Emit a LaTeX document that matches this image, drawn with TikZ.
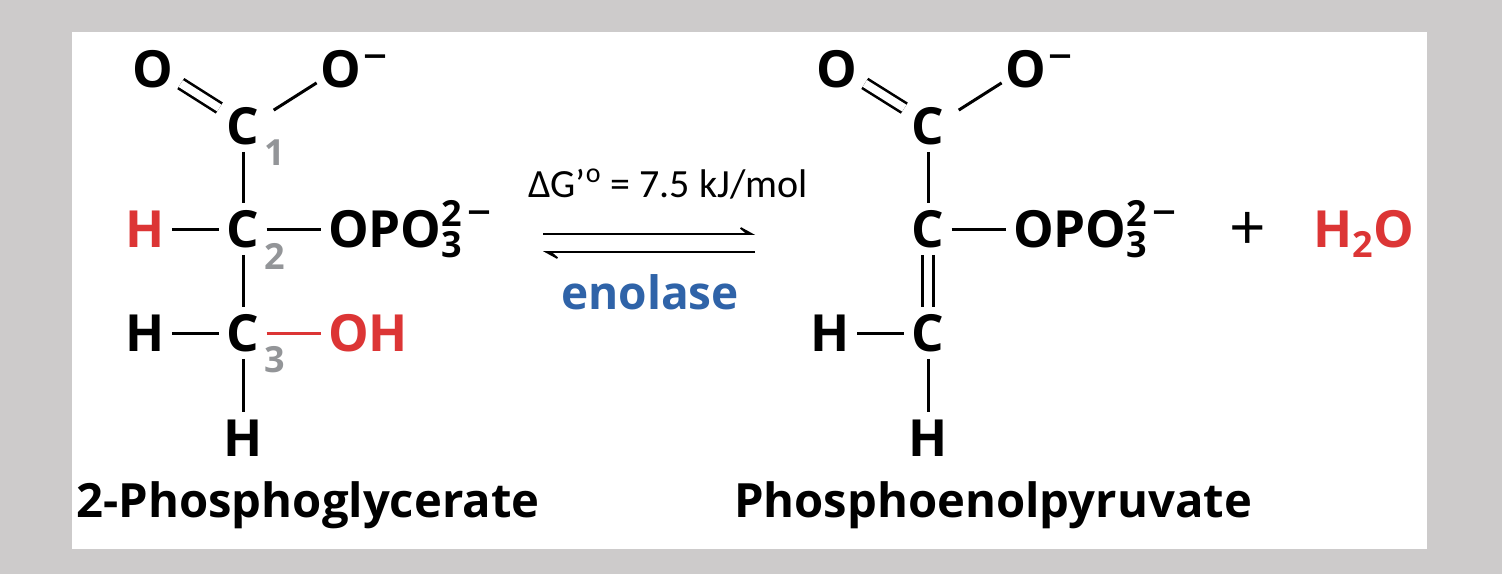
\documentclass[tikz,border=0pt]{standalone}
\usepackage{fontspec}
\setsansfont{Open Sans}
\newfontfamily\noteface{Carlito}
\usetikzlibrary{matrix,arrows.meta}
\definecolor{framegray}{HTML}{CDCBCB}
\definecolor{atomred}{HTML}{DC3535}
\definecolor{atomgray}{HTML}{939598}
\definecolor{enzblue}{HTML}{2F63A8}
\newcommand{\phoscripts}{\rlap{\raisebox{10.7pt}{\fontsize{18}{18}\selectfont 2}}\raisebox{-5.2pt}{\fontsize{18}{18}\selectfont 3}\kern 2.6pt\raisebox{11pt}{\fontsize{24}{24}\selectfont\mdseries --}}
\newcommand{\oxminus}{\kern 1.5pt\raisebox{9.2pt}{\fontsize{24}{24}\selectfont\mdseries --}}

\begin{document}
\begin{tikzpicture}[x=0.5pt, y=-0.5pt,
	atom/.style={font=\sffamily\bfseries\fontsize{25.6}{26}\selectfont, inner sep=0pt, outer sep=3.7pt, text height=18.5pt, text depth=0pt},
	molecule/.style={matrix of nodes, nodes={atom}, column 1/.style={anchor=center}, column 2/.style={anchor=center}, column 3/.style={anchor=west}},
	bond/.style={line width=1.5pt},
	dbond/.style={double, double distance=4pt, line width=1.3pt},
	tiltbond/.style={dbond, transform canvas={yshift=1.5pt}},
	carbonnum/.style={font=\sffamily\bfseries\fontsize{18}{18}\selectfont, text=atomgray, inner sep=0pt},
	molname/.style={font=\sffamily\bfseries\fontsize{23.6}{24}\selectfont, inner sep=0pt},
	eqarrow/.style={line width=1.2pt, -{Stealth[harpoon, length=10pt, width=11pt, inset=6.5pt]}}]
	\fill[framegray] (0,0) rectangle (1502,574);
	\fill[white] (72,32) rectangle (1427,549);

	\matrix (lm) [molecule, matrix anchor=lm-3-2.center] at (243,229)
	{ |[xshift=4pt]| O &[49pt,between origins] &[38.8pt,between origins] |[xshift=-4pt]| O\oxminus \\[28.5pt,between origins]
	    & C & \\[51.5pt,between origins]
	  |[text=atomred]| H & C & OPO\phoscripts \\[52pt,between origins]
	  H & C & |[text=atomred]| OH \\[52.5pt,between origins]
	    & H & \\ };
	\path[bond]
	(lm-1-1) edge[tiltbond] (lm-2-2)
	([shift={(3.5pt,-5pt)}]lm-2-2.north east) edge ([shift={(2pt,6pt)}]lm-1-3.south west)
	(lm-2-2) edge (lm-3-2)
	(lm-3-1) edge (lm-3-2)
	(lm-3-2) edge (lm-3-3)
	         edge (lm-4-2)
	(lm-4-1) edge (lm-4-2)
	(lm-4-2) edge[atomred] (lm-4-3)
	         edge (lm-5-2);
	\node[carbonnum] (numa) at ([xshift=16pt,yshift=-13.5pt]lm-2-2) {1};
	\node[carbonnum] (numb) at ([xshift=16pt,yshift=-13.5pt]lm-3-2) {2};
	\node[carbonnum] (numc) at ([xshift=16pt,yshift=-13.5pt]lm-4-2) {3};

	\coordinate (fwdfrom) at (543,234);
	\coordinate (fwdto) at (755,234);
	\coordinate (revfrom) at (755,252);
	\coordinate (revto) at (543,252);
	\draw[eqarrow] (fwdfrom) -- (fwdto);
	\draw[eqarrow] (revfrom) -- (revto);
	\node[font=\noteface\fontsize{20}{20}\selectfont, inner sep=0pt] (dgval) at (668,184) {ΔG’\textsuperscript{o} = 7.5 kJ/mol};
	\node[font=\sffamily\bfseries\fontsize{23}{23}\selectfont, text=enzblue, inner sep=0pt] (enz) at (650,292) {enolase};

	\matrix (rm) [molecule, matrix anchor=rm-3-2.center] at (928,229)
	{ |[xshift=3.5pt]| O &[49pt,between origins] &[38.8pt,between origins] |[xshift=-4pt]| O\oxminus \\[28.5pt,between origins]
	    & C & \\[51.5pt,between origins]
	    & C & OPO\phoscripts \\[52pt,between origins]
	  H & C & \\[52.5pt,between origins]
	    & H & \\ };
	\path[bond]
	(rm-1-1) edge[tiltbond] (rm-2-2)
	([shift={(3.5pt,-5pt)}]rm-2-2.north east) edge ([shift={(2pt,6pt)}]rm-1-3.south west)
	(rm-2-2) edge (rm-3-2)
	(rm-3-2) edge (rm-3-3)
	         edge[dbond] (rm-4-2)
	(rm-4-1) edge (rm-4-2)
	(rm-4-2) edge (rm-5-2);
	\node[atom, font=\sffamily\fontsize{32}{32}\selectfont, yshift=-1.5pt] (plus) at (1248,229) {+};
	\node[atom, text=atomred] (water) at (1364,229) {H\raisebox{-5.2pt}{\fontsize{18}{18}\selectfont 2}O};

	\node[molname] (lname) at (308,505) {2-Phosphoglycerate};
	\node[molname] (rname) at (993,505) {Phosphoenolpyruvate};
\end{tikzpicture}
\end{document}
